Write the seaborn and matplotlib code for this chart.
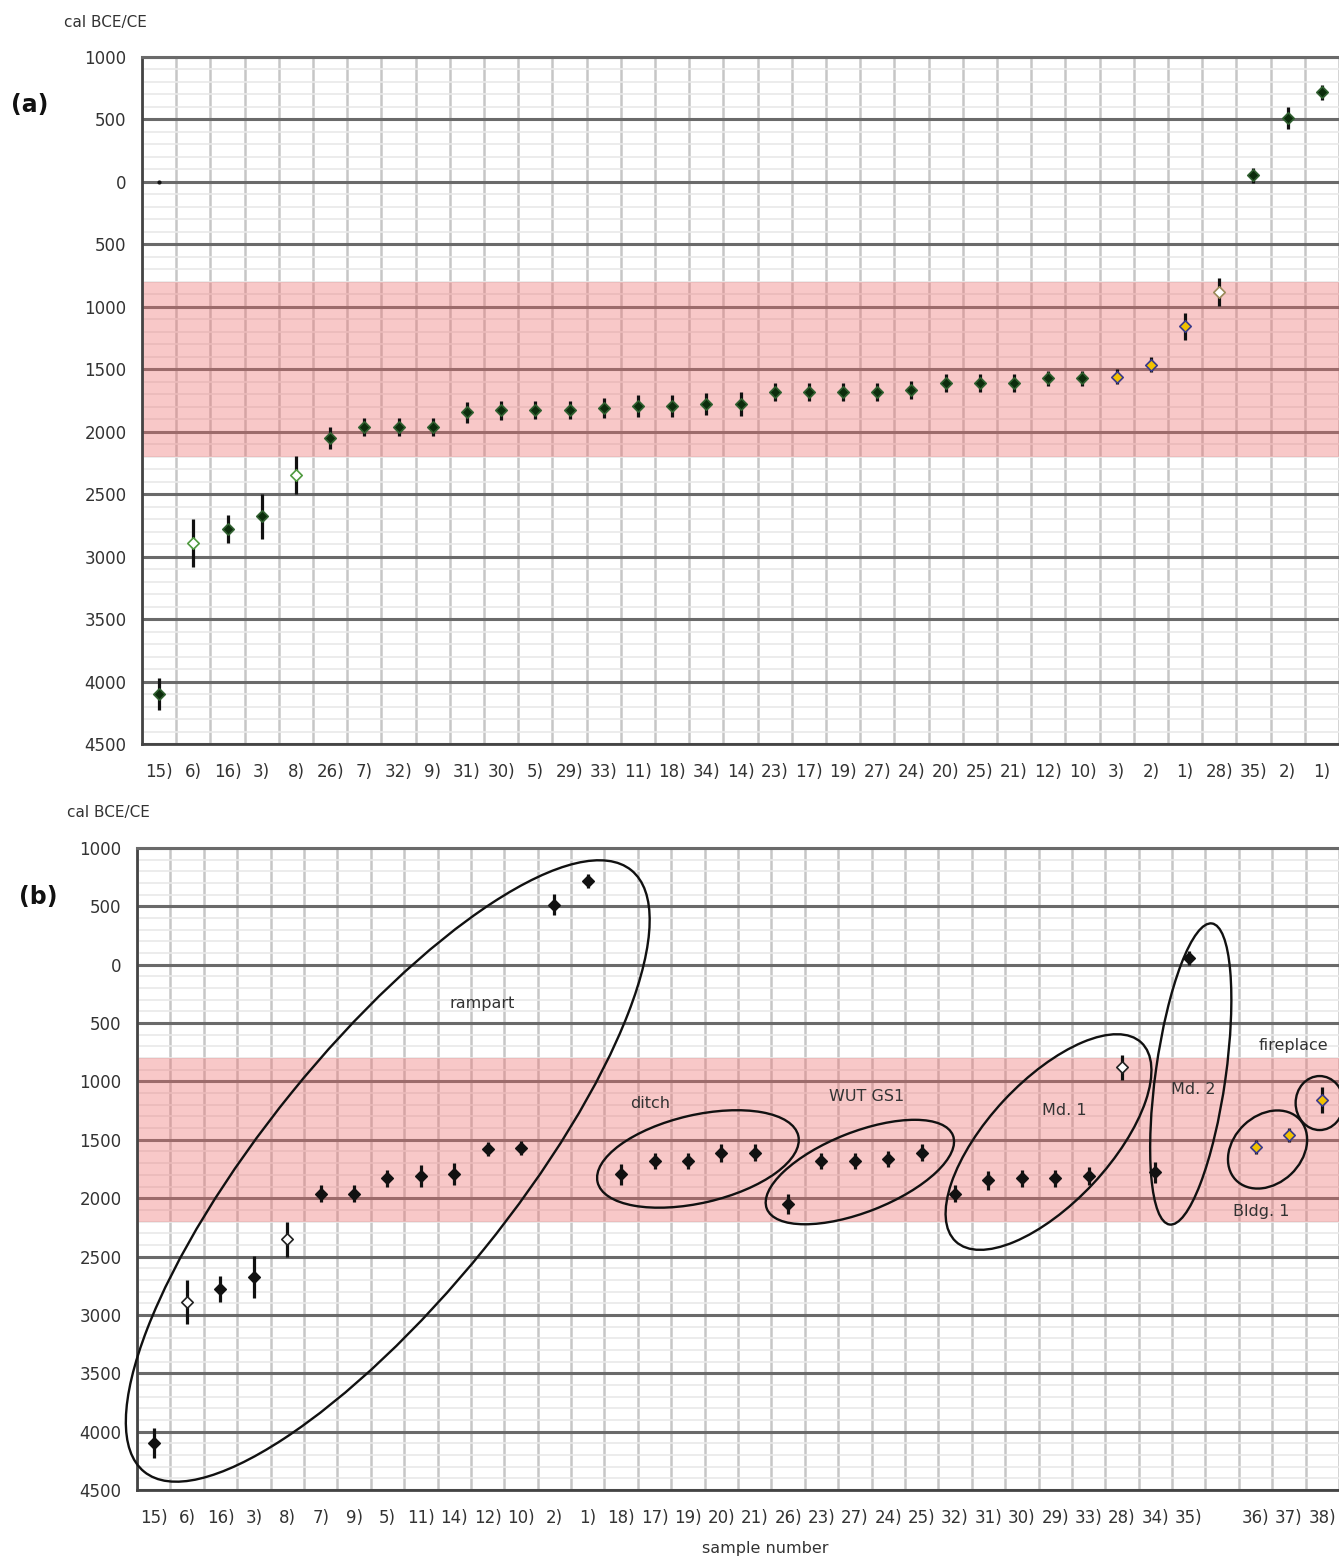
import numpy as np
import pandas as pd
import matplotlib.pyplot as plt
import seaborn as sns
from matplotlib.patches import Ellipse
from matplotlib import transforms

sns.set_style("white")
plt.rcParams["font.family"] = ["DejaVu Sans"]

# ---- data: dates in years BCE (negative = CE) ----
labels_a = ["15)", "6)", "16)", "3)", "8)", "26)", "7)", "32)", "9)", "31)",
            "30)", "5)", "29)", "33)", "11)", "18)", "34)", "14)", "23)", "17)",
            "19)", "27)", "24)", "20)", "25)", "21)", "12)", "10)", "3)", "2)",
            "1)", "28)", "35)", "2)", "1)"]
dates_a = [4100, 2890, 2780, 2675, 2345, 2050, 1962, 1960, 1960, 1845,
           1830, 1830, 1828, 1810, 1794, 1794, 1778, 1778, 1682, 1682,
           1682, 1682, 1666, 1610, 1610, 1610, 1570, 1570, 1560, 1462,
           1157, 880, -55, -512, -716]
err_a = [130, 190, 110, 180, 150, 88, 72, 72, 72, 82,
         75, 72, 72, 80, 90, 90, 90, 95, 70, 70,
         70, 70, 70, 75, 75, 75, 60, 60, 60, 60,
         110, 110, 60, 90, 60]
kind_a = ["dark", "open", "dark", "dark", "open"] + ["dark"] * 23 + \
         ["yellow", "yellow", "yellow", "open_tan", "dark", "dark", "dark"]
zero_dot_a = [0]  # small mark at sample 15) in panel (a)

labels_b = ["15)", "6)", "16)", "3)", "8)", "7)", "9)", "5)", "11)", "14)",
            "12)", "10)", "2)", "1)", "18)", "17)", "19)", "20)", "21)", "26)",
            "23)", "27)", "24)", "25)", "32)", "31)", "30)", "29)", "33)", "28)",
            "34)", "35)", "", "36)", "37)", "38)"]
dates_b = [4100, 2890, 2780, 2675, 2350, 1962, 1960, 1830, 1810, 1790,
           1580, 1570, -512, -716, 1794, 1682, 1682, 1615, 1610, 2050,
           1682, 1682, 1666, 1610, 1960, 1845, 1830, 1828, 1810, 880,
           1778, -55, np.nan, 1560, 1462, 1157]
err_b = [130, 190, 110, 180, 150, 72, 72, 72, 90, 95,
         60, 60, 90, 60, 90, 70, 70, 75, 75, 88,
         70, 70, 70, 75, 72, 82, 75, 72, 80, 110,
         90, 60, np.nan, 60, 60, 110]
kind_b = ["dark", "open", "dark", "dark", "open"] + ["dark"] * 24 + \
         ["open", "dark", "dark", "dark", "yellow", "yellow", "yellow"]

band = (800, 2200)

groups = ["rampart", "ditch", "WUT GS1", "Md. 1", "Md. 2", "Bldg. 1", "fireplace"]
group_x = [7.01, 16.3, 21.15, 26.8, 31.06, 33.36, 34.92]
group_y = [1767, 1664, 1776, 1519, 936, 1583, 1185]
label_x = [9.83, 14.86, 21.36, 27.28, 31.12, 33.18, 34.14]
label_y = [328, 1185, 1125, 1245, 1073, 2110, 696]
# ellipse semi-axes (pixels) and tilt (degrees)
ell_a = [387, 103, 100, 136, 152, 44, 27]
ell_b = [124, 44, 40, 61, 35, 34, 24]
ell_ang = [51, 13, 21.5, 47, 82, 43.5, 90]

W, H = 1339, 1559
fig = plt.figure(figsize=(W / 100, H / 100), dpi=100)
ax_a = fig.add_axes([142 / W, 1 - 744 / H, (1339 - 142) / W, (744 - 57) / H])
ax_b = fig.add_axes([137 / W, 1 - 1490 / H, (1339 - 137) / W, (1490 - 848) / H])

styles_a = {
    "dark": dict(color="#0d2d0d", edgecolor="#2f5f2f"),
    "open": dict(color="white", edgecolor="#4f9a3f"),
    "open_tan": dict(color="white", edgecolor="#9a8a5a"),
    "yellow": dict(color="#f2c200", edgecolor="#3a3a8a"),
}
styles_b = {
    "dark": dict(color="#111111", edgecolor="#111111"),
    "open": dict(color="white", edgecolor="#222222"),
    "yellow": dict(color="#f2c200", edgecolor="#3a3a8a"),
}


def draw_panel(ax, labels, dates, errs, kinds, styles):
    df = pd.DataFrame({"pos": np.arange(len(labels)), "date": dates,
                       "err": errs, "kind": kinds})
    df = df.dropna()
    ax.axhspan(band[0], band[1], color="#ee6f6f", alpha=0.38, lw=0, zorder=1)
    ax.errorbar(df["pos"], df["date"], yerr=df["err"], fmt="none",
                ecolor="#111111", elinewidth=2.3, capsize=0, zorder=3)
    for k, st in styles.items():
        sub = df[df["kind"] == k]
        if len(sub):
            sns.scatterplot(data=sub, x="pos", y="date", ax=ax, marker="D",
                            s=34, linewidth=1.2, zorder=4, legend=False, **st)

    n = len(labels)
    ax.set_xlim(-0.5, n - 0.5)
    ax.set_ylim(4500, -1000)
    ax.set_xlabel("")
    ax.set_ylabel("")
    ax.set_xticks(np.arange(n))
    ax.set_xticklabels(labels)
    ax.set_xticks(np.arange(n + 1) - 0.5, minor=True)
    yt = np.arange(-1000, 4501, 500)
    ax.set_yticks(yt)
    ax.set_yticklabels([str(abs(v)) for v in yt])
    ax.set_yticks(np.arange(-1000, 4501, 100), minor=True)
    ax.tick_params(axis="x", which="major", length=0, pad=14, labelsize=12,
                   labelcolor="#333333")
    ax.tick_params(axis="x", which="minor", length=9, width=1.5,
                   direction="inout", color="#333333")
    ax.tick_params(axis="y", which="major", length=10, width=1.6,
                   direction="inout", color="#333333", pad=6, labelsize=12,
                   labelcolor="#333333")
    ax.tick_params(axis="y", which="minor", length=7, width=1.3,
                   direction="inout", color="#333333")
    ax.grid(False)
    ax.grid(axis="x", which="minor", color="#c6c6c6", lw=1.8)
    ax.grid(axis="y", which="minor", color="#e9e9e9", lw=1.2)
    ax.grid(axis="y", which="major", color="#6a6a6a", lw=2.2)
    ax.set_axisbelow(True)
    ax.spines["right"].set_visible(False)
    ax.spines["top"].set_color("#6a6a6a")
    ax.spines["top"].set_linewidth(2.2)
    for s in ["left", "bottom"]:
        ax.spines[s].set_color("#444444")
        ax.spines[s].set_linewidth(2)


draw_panel(ax_a, labels_a, dates_a, err_a, kind_a, styles_a)
ax_a.scatter([0] * len(zero_dot_a), zero_dot_a, s=4, color="#111111", zorder=4)

draw_panel(ax_b, labels_b, dates_b, err_b, kind_b, styles_b)

for g, cx, cy, lx, ly, a, b, ang in zip(groups, group_x, group_y, label_x, label_y,
                                        ell_a, ell_b, ell_ang):
    tr = fig.dpi_scale_trans + transforms.ScaledTranslation(cx, cy, ax_b.transData)
    e = Ellipse((0, 0), 2 * a / 100, 2 * b / 100, angle=ang, transform=tr,
                fill=False, ec="#111111", lw=1.7, clip_on=False, zorder=5)
    ax_b.add_artist(e)
    ax_b.text(lx, ly, g, ha="center", va="center", fontsize=11.5,
              color="#333333", zorder=6)

fig.text(105 / W, 1 - 22 / H, "cal BCE/CE", ha="center", va="center",
         fontsize=11, color="#333333")
fig.text(108 / W, 1 - 812 / H, "cal BCE/CE", ha="center", va="center",
         fontsize=11, color="#333333")
fig.text(30 / W, 1 - 105 / H, "(a)", ha="center", va="center",
         fontsize=17, fontweight="bold", color="#111111")
fig.text(38 / W, 1 - 897 / H, "(b)", ha="center", va="center",
         fontsize=17, fontweight="bold", color="#111111")
fig.text(765 / W, 1 - 1548 / H, "sample number", ha="center", va="center",
         fontsize=11.5, color="#333333")

fig.savefig("out.png", dpi=100)
